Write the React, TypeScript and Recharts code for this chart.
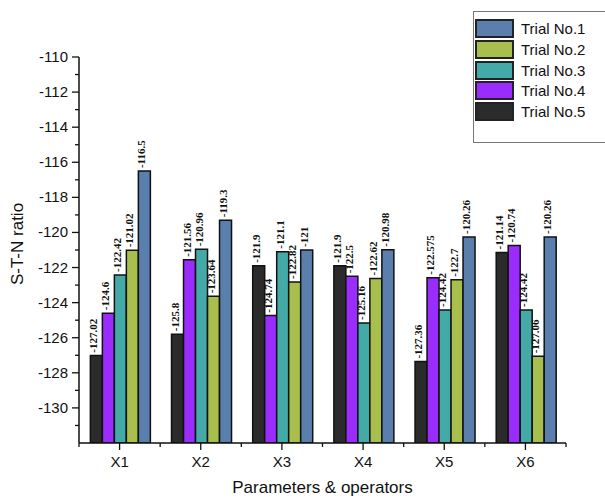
import React from 'react';
import { BarChart, Bar, XAxis, YAxis } from 'recharts';

const categories = ['X1', 'X2', 'X3', 'X4', 'X5', 'X6'];
const trial1 = [-116.5, -119.3, -121, -120.98, -120.26, -120.26];
const trial2 = [-121.02, -123.64, -122.82, -122.62, -122.7, -127.06];
const trial3 = [-122.42, -120.96, -121.1, -125.16, -124.42, -124.42];
const trial4 = [-124.6, -121.56, -124.74, -122.5, -122.575, -120.74];
const trial5 = [-127.02, -125.8, -121.9, -121.9, -127.36, -121.14];
const yTicks = [-132, -131, -130, -129, -128, -127, -126, -125, -124, -123, -122, -121, -120, -119, -118, -117, -116, -115, -114, -113, -112, -111, -110];

const BASE = -132;
const FONT = 'Arial, "Liberation Sans", sans-serif';
const PLOT_LEFT = 79;
const PLOT_BOTTOM = 443;

// drawn left to right inside each group, Trial No.5 first
const SERIES = [
  { key: 't5', name: 'Trial No.5', values: trial5, color: '#2b2b2b' },
  { key: 't4', name: 'Trial No.4', values: trial4, color: '#9a2dfd' },
  { key: 't3', name: 'Trial No.3', values: trial3, color: '#44aaa8' },
  { key: 't2', name: 'Trial No.2', values: trial2, color: '#a9bf4d' },
  { key: 't1', name: 'Trial No.1', values: trial1, color: '#5a7fac' },
];

const data = categories.map((c, i) => {
  const row: any = { name: c };
  SERIES.forEach((s) => { row[s.key] = s.values[i]; });
  return row;
});

const fmt = (v: number) => String(v).replace(/^-/, '-');

const makeLabel = (values: number[]) => (props: any) => {
  const { x, y, width, index } = props;
  const cx = x + width / 2 + 1;
  const ty = y - 3;
  return (
    <text
      x={cx}
      y={ty}
      transform={`rotate(-90 ${cx} ${ty})`}
      fontFamily='"Liberation Serif", "Times New Roman", serif'
      fontSize={11}
      fontWeight="bold"
      fill="#111"
      textAnchor="start"
    >
      {fmt(values[index])}
    </text>
  );
};

const YTick = (props: any) => {
  const { y, payload } = props;
  const v = payload.value;
  if (v === BASE) return null;
  const major = v % 2 === 0;
  return (
    <g>
      <line x1={PLOT_LEFT - (major ? 7 : 4)} x2={PLOT_LEFT} y1={y} y2={y} stroke="#111" strokeWidth={1.3} />
      {major && (
        <text x={PLOT_LEFT - 11} y={y} dy={5} textAnchor="end" fontFamily={FONT} fontSize={15} fill="#111">
          {v}
        </text>
      )}
    </g>
  );
};

const XTick = (props: any) => {
  const { x, payload, width, visibleTicksCount, index } = props;
  const band = width / visibleTicksCount;
  return (
    <g>
      <line x1={x} x2={x} y1={PLOT_BOTTOM} y2={PLOT_BOTTOM + 7} stroke="#111" strokeWidth={1.3} />
      <line x1={x - band / 2} x2={x - band / 2} y1={PLOT_BOTTOM} y2={PLOT_BOTTOM + 4} stroke="#111" strokeWidth={1.3} />
      {index === visibleTicksCount - 1 && (
        <line x1={x + band / 2} x2={x + band / 2} y1={PLOT_BOTTOM} y2={PLOT_BOTTOM + 4} stroke="#111" strokeWidth={1.3} />
      )}
      <text x={x} y={PLOT_BOTTOM + 24} textAnchor="middle" fontFamily={FONT} fontSize={15} fill="#111">
        {payload.value}
      </text>
    </g>
  );
};

const legendItems = [...SERIES].reverse();

export default function App() {
  return (
    <div style={{ position: 'absolute', left: 0, top: 0, width: 605, height: 499, background: '#fff', fontFamily: FONT }}>
      <BarChart
        width={605}
        height={499}
        data={data}
        margin={{ top: 57, right: 39, bottom: 0, left: 0 }}
        barCategoryGap="14%"
        barGap={0}
      >
        <XAxis
          dataKey="name"
          height={56}
          axisLine={{ stroke: '#111', strokeWidth: 1.5 }}
          tickLine={false}
          tick={<XTick />}
          interval={0}
          label={{
            content: (p: any) => (
              <text
                x={p.viewBox.x + p.viewBox.width / 2}
                y={p.viewBox.y + 50}
                textAnchor="middle"
                fontFamily={FONT}
                fontSize={17}
                fill="#111"
              >
                Parameters &amp; operators
              </text>
            ),
          }}
        />
        <YAxis
          type="number"
          width={79}
          domain={[BASE, -110]}
          ticks={yTicks}
          interval={0}
          allowDataOverflow
          axisLine={{ stroke: '#111', strokeWidth: 1.5 }}
          tickLine={false}
          tick={<YTick />}
          label={{
            content: (p: any) => {
              const lx = 23;
              const ly = p.viewBox.y + p.viewBox.height / 2 - 6;
              return (
                <text
                  x={lx}
                  y={ly}
                  transform={`rotate(-90 ${lx} ${ly})`}
                  textAnchor="middle"
                  fontFamily={FONT}
                  fontSize={17}
                  fill="#111"
                >
                  S-T-N ratio
                </text>
              );
            },
          }}
        />
        {SERIES.map((s) => (
          <Bar
            key={s.key}
            name={s.name}
            dataKey={(d: any) => [BASE, d[s.key]]}
            fill={s.color}
            stroke="#111"
            strokeWidth={1.5}
            isAnimationActive={false}
            label={makeLabel(s.values)}
          />
        ))}
      </BarChart>
      <div
        style={{
          position: 'absolute',
          left: 473,
          top: 11,
          width: 140,
          height: 132,
          border: '1px solid #777',
          background: '#fff',
          boxSizing: 'border-box',
        }}
      >
        {legendItems.map((s, i) => (
          <div key={s.key} style={{ position: 'absolute', left: 1, top: 7 + i * 20.8, height: 19, display: 'flex', alignItems: 'center' }}>
            <div style={{ width: 35, height: 15, background: s.color, border: '2px solid #222' }} />
            <span style={{ marginLeft: 7, fontSize: 15, color: '#111' }}>{s.name}</span>
          </div>
        ))}
      </div>
    </div>
  );
}
